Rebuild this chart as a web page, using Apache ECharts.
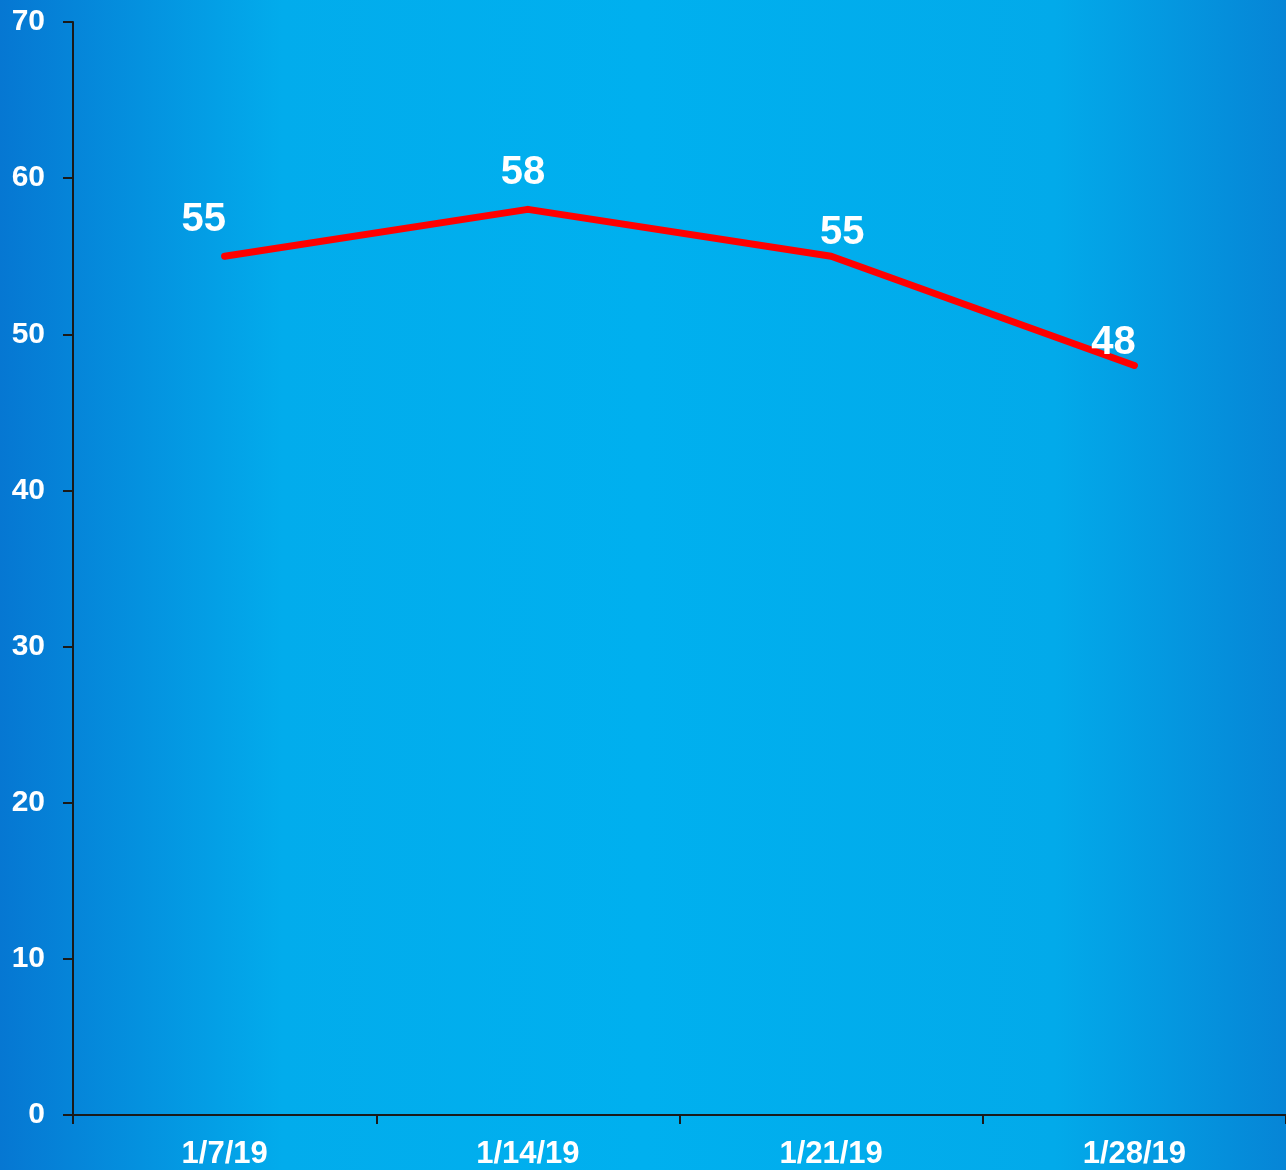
<!DOCTYPE html>
<html><head><meta charset="utf-8">
<script src="https://cdn.jsdelivr.net/npm/echarts@6/dist/echarts.min.js"></script>
<style>html,body{margin:0;padding:0;}#c{width:1286px;height:1170px;}</style>
</head><body><div id="c"></div>
<script>
const categories = ['1/7/19', '1/14/19', '1/21/19', '1/28/19'];
const values = [55, 58, 55, 48];
const labelOffsets = [[-21, -8], [-5, -8], [11, 5], [-21, 5]];

const chart = echarts.init(document.getElementById('c'));
chart.setOption({
  animation: false,
  backgroundColor: {
    type: 'linear', x: 0, y: 0, x2: 1, y2: 0,
    colorStops: [
      {offset: 0, color: '#0677d2'},
      {offset: 0.22, color: '#02acec'},
      {offset: 0.5, color: '#00b0ef'},
      {offset: 0.82, color: '#02aaea'},
      {offset: 1, color: '#0685d6'}
    ]
  },
  grid: {left: 73, right: 0, top: 22, bottom: 54},
  xAxis: {
    type: 'category', data: categories, boundaryGap: true,
    axisLine: {lineStyle: {color: '#1a1a1a', width: 2}},
    axisTick: {show: true, length: 9, lineStyle: {color: '#1a1a1a', width: 2}},
    axisLabel: {color: '#fff', fontFamily: 'Liberation Sans', fontWeight: 'bold', fontSize: 31, margin: 24}
  },
  yAxis: {
    type: 'value', min: 0, max: 70, interval: 10,
    axisLine: {show: true, lineStyle: {color: '#1a1a1a', width: 2}},
    axisTick: {show: true, length: 10, lineStyle: {color: '#1a1a1a', width: 2}},
    splitLine: {show: false},
    axisLabel: {color: '#fff', fontFamily: 'Liberation Sans', fontWeight: 'bold', fontSize: 30, margin: 28}
  },
  series: [{
    type: 'line',
    data: values.map((v, i) => ({value: v, label: {show: true, offset: labelOffsets[i]}})),
    symbol: 'circle', symbolSize: 6, showSymbol: true,
    itemStyle: {color: '#ff0000', borderWidth: 0},
    lineStyle: {color: '#ff0000', width: 7, cap: 'round', join: 'round'},
    label: {show: true, position: 'top', distance: 5, color: '#fff', fontFamily: 'Liberation Sans', fontWeight: 'bold', fontSize: 40}
  }]
});
</script></body></html>
